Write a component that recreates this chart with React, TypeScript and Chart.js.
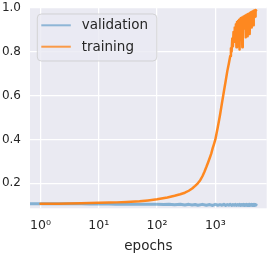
import React, { useEffect, useRef } from 'react';
import { Chart, registerables } from 'chart.js';

Chart.register(...registerables);

const seriesLabels = ['validation', 'training'];
const xTickValues = [1, 10, 100, 1000];
const yTickValues = [0.2, 0.4, 0.6, 0.8, 1.0];
const xAxisTitle = 'epochs';

const trainEpochs = [
  1, 2, 3, 5, 7, 10, 15, 20, 30, 50, 70, 100, 150, 200, 250, 300, 350, 400, 450, 500,
  550, 600, 650, 700, 750, 800, 850, 900, 950, 1000, 1100, 1200, 1300, 1400, 1500, 1600, 1700, 1800,
  1850, 1900, 1950, 2000, 2050, 2100, 2150, 2200, 2250, 2300, 2350, 2400, 2450, 2500, 2550, 2600,
  2650, 2700, 2750, 2800, 2850, 2900, 2950, 3000, 3050, 3100, 3150, 3200, 3250, 3300, 3350, 3400,
  3450, 3500, 3550, 3600, 3650, 3700, 3750, 3800, 3850, 3900, 3950, 4000, 4050, 4100, 4150, 4200,
  4250, 4300, 4350, 4400, 4450, 4500, 4550, 4600, 4650, 4700, 4750, 4800, 4850, 4900, 4950, 5000,
];
const trainAcc = [
  0.107, 0.107, 0.108, 0.109, 0.110, 0.111, 0.112, 0.113, 0.115, 0.118, 0.122, 0.127, 0.135, 0.143, 0.150, 0.157, 0.166, 0.176, 0.188, 0.200,
  0.214, 0.232, 0.253, 0.274, 0.295, 0.315, 0.335, 0.360, 0.380, 0.400, 0.455, 0.510, 0.567, 0.618, 0.665, 0.710, 0.745, 0.780,
  0.815, 0.800, 0.860, 0.825, 0.890, 0.845, 0.910, 0.860, 0.925, 0.820, 0.935, 0.875, 0.940, 0.880, 0.945, 0.810,
  0.948, 0.895, 0.952, 0.890, 0.955, 0.820, 0.957, 0.905, 0.960, 0.910, 0.962, 0.915, 0.964, 0.865, 0.966, 0.920,
  0.968, 0.925, 0.970, 0.870, 0.971, 0.930, 0.973, 0.935, 0.975, 0.880, 0.976, 0.940, 0.978, 0.945, 0.980, 0.910,
  0.981, 0.950, 0.983, 0.952, 0.984, 0.920, 0.986, 0.955, 0.987, 0.958, 0.988, 0.960, 0.989, 0.962, 0.990, 0.988,
];

const valEpochs = [
  0.5, 1, 2, 3, 5, 7, 10, 15, 20, 30, 40, 50, 70, 100, 130, 160, 200, 250, 300, 350, 400, 450, 500,
  600, 700, 800, 900, 1000, 1100, 1200, 1300, 1400, 1500, 1600, 1700, 1800, 1900, 2000,
  2100, 2200, 2300, 2400, 2500, 2600, 2700, 2800, 2900, 3000, 3100, 3200, 3300, 3400, 3500,
  3600, 3700, 3800, 3900, 4000, 4100, 4200, 4300, 4400, 4500, 4600, 4700, 4800, 4900, 5000,
];
const valAcc = [
  0.107, 0.107, 0.107, 0.107, 0.107, 0.106, 0.106, 0.106, 0.105, 0.106, 0.105, 0.105, 0.104, 0.104, 0.103, 0.104, 0.102, 0.104, 0.101, 0.104, 0.101, 0.103, 0.100,
  0.104, 0.100, 0.103, 0.099, 0.104, 0.100, 0.103, 0.100, 0.104, 0.099, 0.103, 0.100, 0.104, 0.099, 0.103,
  0.100, 0.104, 0.099, 0.103, 0.100, 0.104, 0.099, 0.103, 0.100, 0.104, 0.099, 0.103, 0.100, 0.104, 0.099,
  0.103, 0.100, 0.104, 0.099, 0.103, 0.100, 0.104, 0.099, 0.103, 0.100, 0.104, 0.099, 0.103, 0.100, 0.102,
];

const BG = '#EAEAF2';
const TEXT = '#262626';
const FONT = "'DejaVu Sans', sans-serif";
const VAL_COLOR = 'rgba(31,119,180,0.5)';
const TRAIN_COLOR = 'rgba(255,127,14,0.92)';
const VAL_LEGEND = 'rgba(31,119,180,0.45)';
const TRAIN_LEGEND = 'rgba(255,127,14,0.75)';

const sup: Record<string, string> = { '-': '⁻', '0': '⁰', '1': '¹', '2': '²', '3': '³', '4': '⁴', '5': '⁵' };

const bgPlugin = {
  id: 'bgArea',
  beforeDraw(chart: any) {
    const { ctx, chartArea } = chart;
    ctx.save();
    ctx.fillStyle = BG;
    ctx.fillRect(chartArea.left, chartArea.top, chartArea.right - chartArea.left, chartArea.bottom - chartArea.top);
    ctx.restore();
  },
};

const legendPlugin = {
  id: 'innerLegend',
  afterDraw(chart: any) {
    const { ctx, chartArea } = chart;
    const x0 = chartArea.left + 7.3;
    const y0 = chartArea.top + 6.7;
    const w = 119.5;
    const h = 47;
    ctx.save();
    ctx.beginPath();
    ctx.roundRect(x0, y0, w, h, 4);
    ctx.fillStyle = 'rgba(234,234,242,0.8)';
    ctx.fill();
    ctx.strokeStyle = 'rgba(204,204,204,0.8)';
    ctx.lineWidth = 1;
    ctx.stroke();
    const colors = [VAL_LEGEND, TRAIN_LEGEND];
    seriesLabels.forEach((label, i) => {
      const cy = y0 + 11.3 + i * 21.4;
      ctx.beginPath();
      ctx.moveTo(x0 + 4, cy);
      ctx.lineTo(x0 + 33.5, cy);
      ctx.strokeStyle = colors[i];
      ctx.lineWidth = 2;
      ctx.stroke();
      ctx.fillStyle = TEXT;
      ctx.font = `13.5px ${FONT}`;
      ctx.textBaseline = 'middle';
      ctx.textAlign = 'left';
      ctx.fillText(label, x0 + 44.4, cy + 0.5);
    });
    ctx.restore();
  },
};

export default function App() {
  const ref = useRef<HTMLCanvasElement | null>(null);
  useEffect(() => {
    if (!ref.current) return;
    const chart = new Chart(ref.current, {
      type: 'line',
      data: {
        datasets: [
          {
            label: seriesLabels[0],
            data: valEpochs.map((e, i) => ({ x: e, y: valAcc[i] })),
            borderColor: VAL_COLOR,
            borderWidth: 3,
            borderJoinStyle: 'round',
            borderCapStyle: 'round',
            pointRadius: 0,
            order: 2,
          },
          {
            label: seriesLabels[1],
            data: trainEpochs.map((e, i) => ({ x: e, y: trainAcc[i] })),
            borderColor: TRAIN_COLOR,
            borderWidth: 2.5,
            borderJoinStyle: 'round',
            borderCapStyle: 'round',
            pointRadius: 0,
            order: 1,
          },
        ],
      },
      options: {
        animation: false,
        responsive: false,
        maintainAspectRatio: false,
        layout: { padding: { top: 7.3, right: 8.3, left: 0, bottom: 0 } },
        plugins: { legend: { display: false }, tooltip: { enabled: false } },
        elements: { line: { tension: 0 } },
        scales: {
          x: {
            type: 'logarithmic',
            min: 0.66,
            max: 7600,
            grid: { color: '#ffffff', lineWidth: 1.25, drawTicks: false },
            border: { display: false },
            afterBuildTicks: (s: any) => {
              s.ticks = xTickValues.map((v) => ({ value: v }));
            },
            afterFit: (s: any) => {
              s.height = 47.7;
              s.paddingLeft = 0;
              s.paddingRight = 0;
            },
            ticks: {
              autoSkip: false,
              maxRotation: 0,
              padding: 10,
              color: TEXT,
              font: { family: FONT, size: 12.5 },
              callback: (v: any) => {
                const exp = String(Math.round(Math.log10(Number(v))));
                return '10' + exp.split('').map((c) => sup[c] || c).join('');
              },
            },
            title: {
              display: true,
              text: xAxisTitle,
              color: TEXT,
              font: { family: FONT, size: 13.5 },
              padding: { top: 0, bottom: 1 },
            },
          },
          y: {
            type: 'linear',
            min: 0.086,
            max: 1.002,
            grid: { color: '#ffffff', lineWidth: 1.25, drawTicks: false },
            border: { display: false },
            afterBuildTicks: (s: any) => {
              s.ticks = yTickValues.map((v) => ({ value: v }));
            },
            afterFit: (s: any) => {
              s.width = 30;
              s.paddingTop = 0;
              s.paddingBottom = 0;
            },
            ticks: {
              padding: 9,
              color: TEXT,
              font: { family: FONT, size: 12 },
              callback: (v: any) => Number(v).toFixed(1),
            },
          },
        },
      },
      plugins: [bgPlugin, legendPlugin],
    });
    return () => chart.destroy();
  }, []);
  return (
    <div style={{ position: 'absolute', left: 0, top: 0, width: 275, height: 256 }}>
      <canvas ref={ref} width={275} height={256} style={{ display: 'block' }} />
    </div>
  );
}
